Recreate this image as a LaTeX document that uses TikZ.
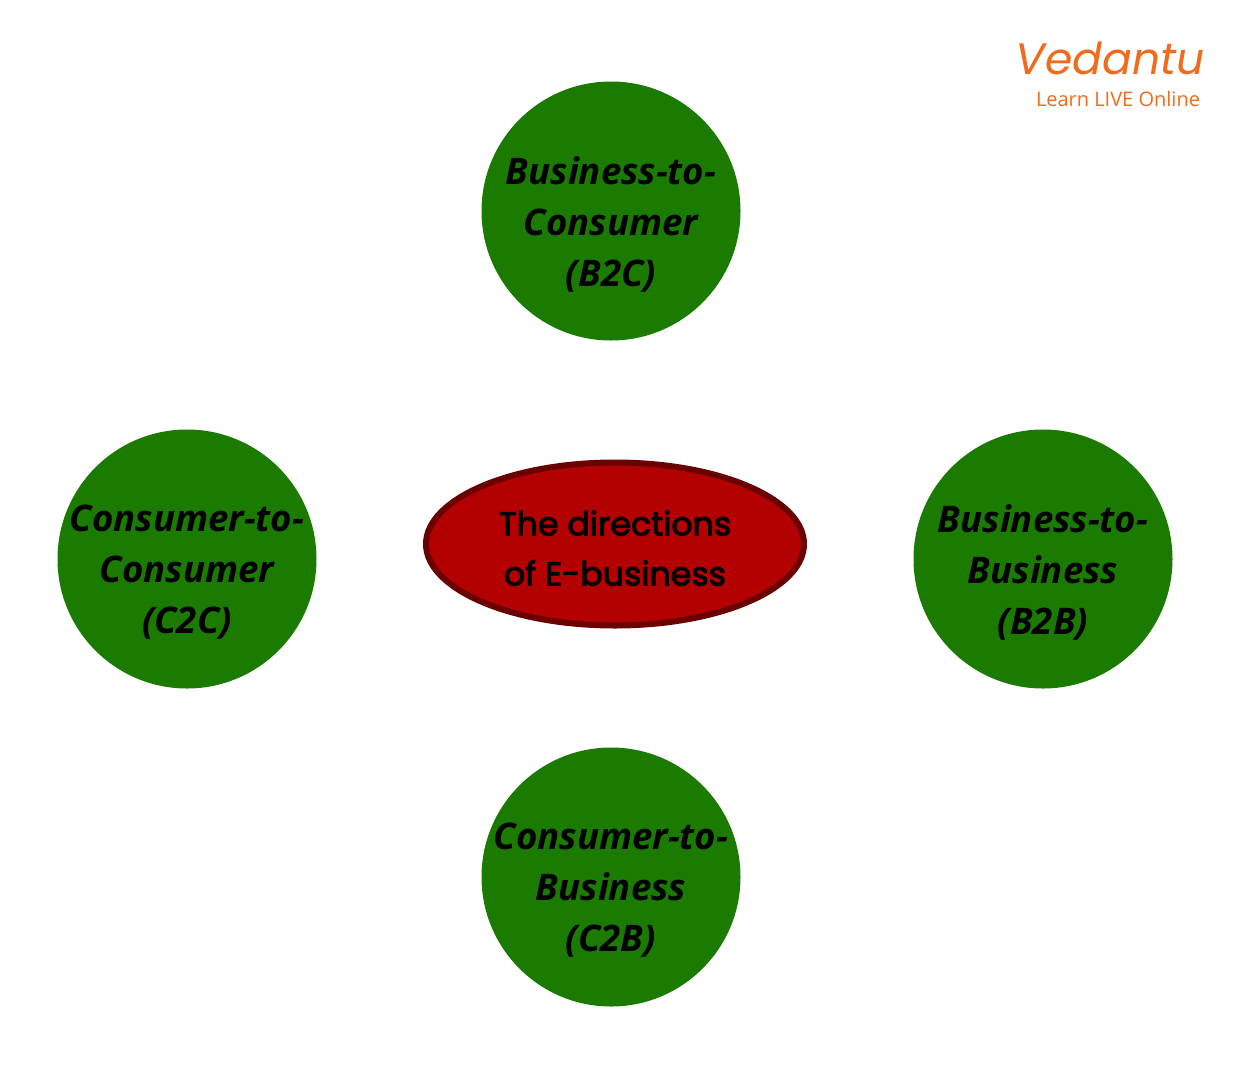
\documentclass[tikz,border=0pt]{standalone}
\usepackage{fontspec}
\setmainfont{Open Sans}
\newfontfamily\hubfont[FakeBold=3]{Poppins}
\newfontfamily\logofont{Poppins}
\usepackage{tikz}
\usetikzlibrary{shapes.geometric}

\definecolor{typegreen}{HTML}{1A7B00}
\definecolor{hubred}{HTML}{B30000}
\definecolor{hubrim}{HTML}{6B0000}
\definecolor{logoorange}{HTML}{F26A1B}

\tikzset{
  kind/.style={circle, fill=typegreen, minimum size=259pt*0.5, inner sep=0pt},
  kindtext/.style={align=center, inner sep=0pt, yshift=-6.5pt,
    font=\fontsize{18.3}{25.5}\selectfont\bfseries\itshape},
  hub/.style={ellipse, fill=hubred, draw=hubrim, line width=3pt,
    minimum width=378pt*0.5, minimum height=163pt*0.5, inner sep=0pt, align=center,
    font=\hubfont\fontsize{16.6}{25}\selectfont}
}

\begin{document}
\begin{tikzpicture}[x=0.5pt, y=-0.5pt]
            \useasboundingbox (0,0) rectangle (1238,1077);

            \node[hub] (hub) at (615, 544) {};
            \node[font=\hubfont\fontsize{16.6}{25}\selectfont, align=center, inner sep=0pt] (hubtext) at (615, 548) {The directions\\of E-business};

            \node[kind, label={[kindtext]center:{Business-to-\\Consumer\\(B2C)}}] (btoc) at (611, 211) {};
            \node[kind, label={[kindtext]center:{Consumer-to-\\Consumer\\(C2C)}}] (ctoc) at (187, 559) {};
            \node[kind, label={[kindtext]center:{Business-to-\\Business\\(B2B)}}] (btob) at (1043, 559) {};
            \node[kind, label={[kindtext]center:{Consumer-to-\\Business\\(C2B)}}] (ctob) at (611, 877) {};

            % logo
            \node[text=logoorange, font=\logofont\itshape\fontsize{22}{24}\selectfont] (logo) at (1110, 58) {Vedantu};
            \node[text=logoorange, font=\fontsize{10}{12}\selectfont] (tagline) at (1118, 99) {Learn LIVE Online};

            \end{tikzpicture}
\end{document}
